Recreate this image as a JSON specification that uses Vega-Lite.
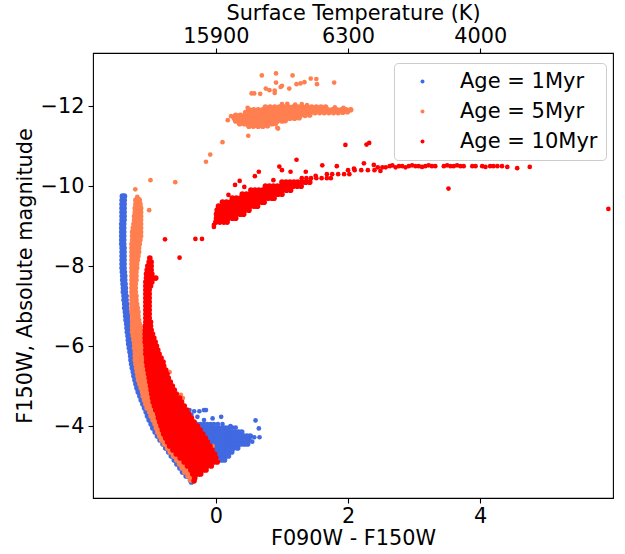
{
"$schema": "https://vega.github.io/schema/vega-lite/v6.json",
"width": 520, "height": 445,
"autosize": {"type": "none"},
"padding": {"left": 93, "top": 53, "right": 12, "bottom": 56},
"config": {
 "font": "DejaVu Sans",
 "view": {"stroke": "#000000", "strokeWidth": 1.1},
 "axis": {"grid": false, "domain": false, "tickColor": "#000000", "tickSize": 5, "tickWidth": 1.1, "labelColor": "#000000", "titleColor": "#000000", "labelFontSize": 20.8, "titleFontSize": 20.8, "titleFontWeight": "normal", "labelFont": "DejaVu Sans", "titleFont": "DejaVu Sans"}
},
"datasets": {
"b1": [
{"x":-1.415,"y":-9.75},{"x":-1.385,"y":-9.75},
{"x":-1.418,"y":-9.65},{"x":-1.388,"y":-9.65},
{"x":-1.42,"y":-9.55},{"x":-1.39,"y":-9.55},
{"x":-1.42,"y":-9.45},{"x":-1.39,"y":-9.45},
{"x":-1.42,"y":-9.35},{"x":-1.39,"y":-9.35},
{"x":-1.42,"y":-9.25},{"x":-1.39,"y":-9.25},
{"x":-1.42,"y":-9.15},{"x":-1.39,"y":-9.15},
{"x":-1.425,"y":-9.05},{"x":-1.395,"y":-9.05},
{"x":-1.425,"y":-8.95},{"x":-1.395,"y":-8.95},
{"x":-1.425,"y":-8.85},{"x":-1.395,"y":-8.85},
{"x":-1.425,"y":-8.75},{"x":-1.395,"y":-8.75},
{"x":-1.425,"y":-8.65},{"x":-1.395,"y":-8.65},
{"x":-1.425,"y":-8.55},{"x":-1.395,"y":-8.55},
{"x":-1.42,"y":-8.45},{"x":-1.39,"y":-8.45},
{"x":-1.42,"y":-8.35},{"x":-1.39,"y":-8.35},
{"x":-1.42,"y":-8.25},{"x":-1.39,"y":-8.25},
{"x":-1.42,"y":-8.15},{"x":-1.39,"y":-8.15},
{"x":-1.42,"y":-8.05},{"x":-1.39,"y":-8.05},
{"x":-1.42,"y":-7.95},{"x":-1.39,"y":-7.95},
{"x":-1.415,"y":-7.85},{"x":-1.385,"y":-7.85},
{"x":-1.41,"y":-7.75},{"x":-1.38,"y":-7.75},
{"x":-1.41,"y":-7.65},{"x":-1.38,"y":-7.65},
{"x":-1.405,"y":-7.55},{"x":-1.375,"y":-7.55},
{"x":-1.4,"y":-7.45},{"x":-1.37,"y":-7.45},
{"x":-1.4,"y":-7.35},{"x":-1.37,"y":-7.35},
{"x":-1.39,"y":-7.25},{"x":-1.36,"y":-7.25},
{"x":-1.39,"y":-7.15},{"x":-1.36,"y":-7.15},
{"x":-1.38,"y":-7.05},{"x":-1.35,"y":-7.05},
{"x":-1.38,"y":-6.95},{"x":-1.35,"y":-6.95},
{"x":-1.37,"y":-6.85},{"x":-1.34,"y":-6.85},
{"x":-1.365,"y":-6.75},{"x":-1.335,"y":-6.75},
{"x":-1.36,"y":-6.65},{"x":-1.33,"y":-6.65},
{"x":-1.35,"y":-6.55},{"x":-1.32,"y":-6.55},
{"x":-1.345,"y":-6.45},{"x":-1.315,"y":-6.45},
{"x":-1.34,"y":-6.35},{"x":-1.31,"y":-6.35},
{"x":-1.33,"y":-6.25},{"x":-1.3,"y":-6.25},
{"x":-1.325,"y":-6.15},{"x":-1.295,"y":-6.15},
{"x":-1.32,"y":-6.05},{"x":-1.29,"y":-6.05},
{"x":-1.31,"y":-5.95},{"x":-1.28,"y":-5.95},
{"x":-1.3,"y":-5.85},{"x":-1.27,"y":-5.85},
{"x":-1.29,"y":-5.75},{"x":-1.26,"y":-5.75},
{"x":-1.285,"y":-5.65},{"x":-1.255,"y":-5.65},
{"x":-1.275,"y":-5.55},{"x":-1.245,"y":-5.55},
{"x":-1.265,"y":-5.45},{"x":-1.235,"y":-5.45},
{"x":-1.25,"y":-5.35},{"x":-1.22,"y":-5.35},
{"x":-1.24,"y":-5.25},{"x":-1.21,"y":-5.25},
{"x":-1.225,"y":-5.15},{"x":-1.195,"y":-5.15},
{"x":-1.21,"y":-5.05},{"x":-1.18,"y":-5.05},
{"x":-1.195,"y":-4.95},{"x":-1.165,"y":-4.95},
{"x":-1.175,"y":-4.85},{"x":-1.145,"y":-4.85},
{"x":-1.15,"y":-4.75},{"x":-1.12,"y":-4.75},
{"x":-1.13,"y":-4.65},{"x":-1.1,"y":-4.65},
{"x":-1.105,"y":-4.55},{"x":-1.075,"y":-4.55},
{"x":-1.08,"y":-4.45},{"x":-1.05,"y":-4.45},
{"x":-1.055,"y":-4.35},{"x":-1.025,"y":-4.35},
{"x":-1.035,"y":-4.25},{"x":-1.005,"y":-4.25},
{"x":-1.01,"y":-4.15},{"x":-0.98,"y":-4.15},
{"x":-0.98,"y":-4.05},{"x":-0.95,"y":-4.05},
{"x":-0.955,"y":-3.95},{"x":-0.925,"y":-3.95},
{"x":-0.92,"y":-3.85},{"x":-0.89,"y":-3.85},
{"x":-0.885,"y":-3.75},{"x":-0.855,"y":-3.75},
{"x":-0.845,"y":-3.65},{"x":-0.815,"y":-3.65},
{"x":-0.8,"y":-3.55},{"x":-0.77,"y":-3.55},
{"x":-0.76,"y":-3.45},{"x":-0.73,"y":-3.45},
{"x":-0.715,"y":-3.35},{"x":-0.685,"y":-3.35},
{"x":-0.675,"y":-3.25},{"x":-0.645,"y":-3.25},
{"x":-0.63,"y":-3.15},{"x":-0.6,"y":-3.15},
{"x":-0.59,"y":-3.05},{"x":-0.56,"y":-3.05},
{"x":-0.545,"y":-2.95},{"x":-0.515,"y":-2.95},
{"x":-0.505,"y":-2.85},{"x":-0.475,"y":-2.85},
{"x":-0.45,"y":-2.75},{"x":-0.42,"y":-2.75},
{"x":-0.385,"y":-2.65},{"x":-0.36,"y":-2.65},
{"x":-0.37,"y":-2.6},
{"x":-0.26,"y":-3.95},{"x":-0.21,"y":-3.95},{"x":-0.16,"y":-3.95},{"x":-0.11,"y":-3.95},{"x":-0.06,"y":-3.95},{"x":-0.01,"y":-3.95},{"x":0.04,"y":-3.95},{"x":0.09,"y":-3.95},{"x":0.14,"y":-3.95},{"x":0.19,"y":-3.95},
{"x":-0.21,"y":-3.85},{"x":-0.16,"y":-3.85},{"x":-0.11,"y":-3.85},{"x":-0.06,"y":-3.85},{"x":-0.01,"y":-3.85},{"x":0.04,"y":-3.85},{"x":0.09,"y":-3.85},{"x":0.14,"y":-3.85},{"x":0.19,"y":-3.85},{"x":0.24,"y":-3.85},{"x":0.29,"y":-3.85},{"x":0.34,"y":-3.85},{"x":0.39,"y":-3.85},
{"x":-0.18,"y":-3.75},{"x":-0.13,"y":-3.75},{"x":-0.08,"y":-3.75},{"x":-0.03,"y":-3.75},{"x":0.02,"y":-3.75},{"x":0.07,"y":-3.75},{"x":0.12,"y":-3.75},{"x":0.17,"y":-3.75},{"x":0.22,"y":-3.75},{"x":0.27,"y":-3.75},{"x":0.32,"y":-3.75},{"x":0.37,"y":-3.75},{"x":0.42,"y":-3.75},{"x":0.47,"y":-3.75},{"x":0.52,"y":-3.75},
{"x":-0.15,"y":-3.65},{"x":-0.1,"y":-3.65},{"x":-0.05,"y":-3.65},{"x":0.0,"y":-3.65},{"x":0.05,"y":-3.65},{"x":0.1,"y":-3.65},{"x":0.15,"y":-3.65},{"x":0.2,"y":-3.65},{"x":0.25,"y":-3.65},{"x":0.3,"y":-3.65},{"x":0.35,"y":-3.65},{"x":0.4,"y":-3.65},{"x":0.45,"y":-3.65},{"x":0.5,"y":-3.65},
{"x":-0.12,"y":-3.55},{"x":-0.07,"y":-3.55},{"x":-0.02,"y":-3.55},{"x":0.03,"y":-3.55},{"x":0.08,"y":-3.55},{"x":0.13,"y":-3.55},{"x":0.18,"y":-3.55},{"x":0.23,"y":-3.55},{"x":0.28,"y":-3.55},{"x":0.33,"y":-3.55},{"x":0.38,"y":-3.55},{"x":0.43,"y":-3.55},{"x":0.48,"y":-3.55},
{"x":-0.08,"y":-3.45},{"x":-0.03,"y":-3.45},{"x":0.02,"y":-3.45},{"x":0.07,"y":-3.45},{"x":0.12,"y":-3.45},{"x":0.17,"y":-3.45},{"x":0.22,"y":-3.45},{"x":0.27,"y":-3.45},{"x":0.33,"y":-3.45},
{"x":-0.02,"y":-3.35},{"x":0.03,"y":-3.35},{"x":0.08,"y":-3.35},{"x":0.13,"y":-3.35},{"x":0.18,"y":-3.35},{"x":0.24,"y":-3.35},
{"x":0.03,"y":-3.25},{"x":0.08,"y":-3.25},{"x":0.13,"y":-3.25},{"x":0.19,"y":-3.25},
{"x":0.08,"y":-3.15},{"x":0.13,"y":-3.15}
],
"b2": [
{"x":-0.33,"y":-4.05},{"x":-0.28,"y":-4.05},{"x":-0.23,"y":-4.05},{"x":-0.18,"y":-4.05},{"x":-0.13,"y":-4.05},{"x":-0.08,"y":-4.05},{"x":-0.03,"y":-4.05},{"x":0.03,"y":-4.05},{"x":0.1,"y":-4.05},
{"x":0.25,"y":-3.96},{"x":0.3,"y":-3.96},{"x":0.65,"y":-3.94},{"x":0.58,"y":-3.72},{"x":0.66,"y":-3.72},
{"x":-0.4,"y":-4.4},{"x":-0.33,"y":-4.37},{"x":-0.25,"y":-4.37},{"x":-0.18,"y":-4.4},{"x":-0.15,"y":-4.4},{"x":-0.37,"y":-4.28},{"x":-0.28,"y":-4.23},{"x":-0.18,"y":-4.15},{"x":-0.05,"y":-4.19},{"x":0.08,"y":-4.23},{"x":0.6,"y":-4.14},{"x":0.55,"y":-3.61},{"x":0.22,"y":-4.0}
],
"o1": [
{"x":-1.21,"y":-9.65},{"x":-1.16,"y":-9.65},
{"x":-1.21,"y":-9.55},{"x":-1.15,"y":-9.55},
{"x":-1.22,"y":-9.45},{"x":-1.17,"y":-9.45},{"x":-1.14,"y":-9.45},
{"x":-1.22,"y":-9.35},{"x":-1.17,"y":-9.35},{"x":-1.14,"y":-9.35},
{"x":-1.23,"y":-9.25},{"x":-1.18,"y":-9.25},{"x":-1.14,"y":-9.25},
{"x":-1.23,"y":-9.15},{"x":-1.18,"y":-9.15},{"x":-1.14,"y":-9.15},
{"x":-1.24,"y":-9.05},{"x":-1.19,"y":-9.05},{"x":-1.14,"y":-9.05},
{"x":-1.25,"y":-8.95},{"x":-1.2,"y":-8.95},{"x":-1.14,"y":-8.95},
{"x":-1.26,"y":-8.85},{"x":-1.21,"y":-8.85},{"x":-1.16,"y":-8.85},{"x":-1.14,"y":-8.85},
{"x":-1.26,"y":-8.75},{"x":-1.21,"y":-8.75},{"x":-1.16,"y":-8.75},{"x":-1.14,"y":-8.75},
{"x":-1.26,"y":-8.65},{"x":-1.21,"y":-8.65},{"x":-1.15,"y":-8.65},
{"x":-1.27,"y":-8.55},{"x":-1.22,"y":-8.55},{"x":-1.16,"y":-8.55},
{"x":-1.27,"y":-8.45},{"x":-1.22,"y":-8.45},{"x":-1.17,"y":-8.45},
{"x":-1.27,"y":-8.35},{"x":-1.22,"y":-8.35},{"x":-1.17,"y":-8.35},
{"x":-1.27,"y":-8.25},{"x":-1.23,"y":-8.25},{"x":-1.18,"y":-8.25},
{"x":-1.27,"y":-8.15},{"x":-1.23,"y":-8.15},{"x":-1.19,"y":-8.15},
{"x":-1.27,"y":-8.05},{"x":-1.23,"y":-8.05},{"x":-1.2,"y":-8.05},
{"x":-1.27,"y":-7.95},{"x":-1.24,"y":-7.95},{"x":-1.2,"y":-7.95},
{"x":-1.27,"y":-7.85},{"x":-1.24,"y":-7.85},{"x":-1.21,"y":-7.85},
{"x":-1.27,"y":-7.75},{"x":-1.24,"y":-7.75},{"x":-1.21,"y":-7.75},
{"x":-1.27,"y":-7.65},{"x":-1.24,"y":-7.65},{"x":-1.21,"y":-7.65},
{"x":-1.27,"y":-7.55},{"x":-1.22,"y":-7.55},
{"x":-1.27,"y":-7.45},{"x":-1.22,"y":-7.45},
{"x":-1.27,"y":-7.35},{"x":-1.22,"y":-7.35},
{"x":-1.27,"y":-7.25},{"x":-1.21,"y":-7.25},
{"x":-1.27,"y":-7.15},{"x":-1.21,"y":-7.15},
{"x":-1.27,"y":-7.05},{"x":-1.22,"y":-7.05},{"x":-1.2,"y":-7.05},
{"x":-1.27,"y":-6.95},{"x":-1.22,"y":-6.95},{"x":-1.19,"y":-6.95},
{"x":-1.27,"y":-6.85},{"x":-1.22,"y":-6.85},{"x":-1.18,"y":-6.85},
{"x":-1.26,"y":-6.75},{"x":-1.21,"y":-6.75},{"x":-1.18,"y":-6.75},
{"x":-1.26,"y":-6.65},{"x":-1.21,"y":-6.65},{"x":-1.17,"y":-6.65},
{"x":-1.26,"y":-6.55},{"x":-1.21,"y":-6.55},{"x":-1.16,"y":-6.55},
{"x":-1.26,"y":-6.45},{"x":-1.21,"y":-6.45},{"x":-1.15,"y":-6.45},
{"x":-1.26,"y":-6.35},{"x":-1.21,"y":-6.35},{"x":-1.16,"y":-6.35},{"x":-1.14,"y":-6.35},
{"x":-1.25,"y":-6.25},{"x":-1.2,"y":-6.25},{"x":-1.15,"y":-6.25},{"x":-1.13,"y":-6.25},
{"x":-1.24,"y":-6.15},{"x":-1.19,"y":-6.15},{"x":-1.14,"y":-6.15},{"x":-1.13,"y":-6.15},
{"x":-1.23,"y":-6.05},{"x":-1.18,"y":-6.05},{"x":-1.13,"y":-6.05},
{"x":-1.23,"y":-5.95},{"x":-1.18,"y":-5.95},{"x":-1.13,"y":-5.95},
{"x":-1.22,"y":-5.85},{"x":-1.17,"y":-5.85},{"x":-1.12,"y":-5.85},
{"x":-1.22,"y":-5.75},{"x":-1.17,"y":-5.75},{"x":-1.12,"y":-5.75},
{"x":-1.22,"y":-5.65},{"x":-1.17,"y":-5.65},{"x":-1.12,"y":-5.65},
{"x":-1.21,"y":-5.55},{"x":-1.16,"y":-5.55},{"x":-1.11,"y":-5.55},
{"x":-1.2,"y":-5.45},{"x":-1.15,"y":-5.45},{"x":-1.1,"y":-5.45},
{"x":-1.19,"y":-5.35},{"x":-1.14,"y":-5.35},{"x":-1.09,"y":-5.35},
{"x":-1.18,"y":-5.25},{"x":-1.13,"y":-5.25},{"x":-1.08,"y":-5.25},
{"x":-1.17,"y":-5.15},{"x":-1.12,"y":-5.15},{"x":-1.07,"y":-5.15},
{"x":-1.15,"y":-5.05},{"x":-1.1,"y":-5.05},{"x":-1.05,"y":-5.05},
{"x":-1.13,"y":-4.95},{"x":-1.08,"y":-4.95},{"x":-1.03,"y":-4.95},
{"x":-1.11,"y":-4.85},{"x":-1.06,"y":-4.85},{"x":-1.01,"y":-4.85},
{"x":-1.1,"y":-4.75},{"x":-1.05,"y":-4.75},{"x":-1.0,"y":-4.75},
{"x":-1.08,"y":-4.65},{"x":-1.03,"y":-4.65},{"x":-0.98,"y":-4.65},
{"x":-1.06,"y":-4.55},{"x":-1.01,"y":-4.55},{"x":-0.96,"y":-4.55},
{"x":-1.04,"y":-4.45},{"x":-0.99,"y":-4.45},{"x":-0.94,"y":-4.45},
{"x":-1.0,"y":-4.35},{"x":-0.95,"y":-4.35},{"x":-0.9,"y":-4.35},
{"x":-0.98,"y":-4.25},{"x":-0.93,"y":-4.25},{"x":-0.88,"y":-4.25},
{"x":-0.95,"y":-4.15},{"x":-0.9,"y":-4.15},{"x":-0.85,"y":-4.15},
{"x":-0.92,"y":-4.05},{"x":-0.87,"y":-4.05},{"x":-0.82,"y":-4.05},
{"x":-0.9,"y":-3.95},{"x":-0.85,"y":-3.95},{"x":-0.8,"y":-3.95},
{"x":-0.88,"y":-3.85},{"x":-0.83,"y":-3.85},{"x":-0.78,"y":-3.85},
{"x":-0.85,"y":-3.75},{"x":-0.8,"y":-3.75},{"x":-0.75,"y":-3.75},
{"x":-0.82,"y":-3.65},{"x":-0.77,"y":-3.65},{"x":-0.72,"y":-3.65},
{"x":-0.78,"y":-3.55},{"x":-0.73,"y":-3.55},{"x":-0.68,"y":-3.55},
{"x":-0.73,"y":-3.45},{"x":-0.68,"y":-3.45},{"x":-0.63,"y":-3.45},
{"x":-0.69,"y":-3.35},{"x":-0.64,"y":-3.35},{"x":-0.59,"y":-3.35},
{"x":-0.64,"y":-3.25},{"x":-0.59,"y":-3.25},{"x":-0.54,"y":-3.25},
{"x":-0.59,"y":-3.15},{"x":-0.54,"y":-3.15},{"x":-0.49,"y":-3.15},
{"x":-0.55,"y":-3.05},{"x":-0.5,"y":-3.05},{"x":-0.45,"y":-3.05},
{"x":-0.51,"y":-2.95},{"x":-0.46,"y":-2.95},{"x":-0.41,"y":-2.95},
{"x":-0.47,"y":-2.85},{"x":-0.42,"y":-2.85},{"x":-0.37,"y":-2.85},
{"x":-0.42,"y":-2.75},{"x":-0.37,"y":-2.75},
{"x":-0.38,"y":-2.65},{"x":-0.34,"y":-2.65},
{"x":0.75,"y":-11.98},{"x":0.82,"y":-11.98},{"x":0.89,"y":-11.98},{"x":0.96,"y":-11.98},{"x":1.03,"y":-11.98},{"x":1.1,"y":-11.98},{"x":1.17,"y":-11.98},{"x":1.24,"y":-11.98},{"x":1.31,"y":-11.98},{"x":1.38,"y":-11.98},{"x":1.45,"y":-11.98},{"x":1.52,"y":-11.98},{"x":1.59,"y":-11.98},{"x":1.66,"y":-11.98},
{"x":0.5,"y":-11.91},{"x":0.57,"y":-11.91},{"x":0.64,"y":-11.91},{"x":0.71,"y":-11.91},{"x":0.78,"y":-11.91},{"x":0.85,"y":-11.91},{"x":0.92,"y":-11.91},{"x":0.99,"y":-11.91},{"x":1.06,"y":-11.91},{"x":1.13,"y":-11.91},{"x":1.2,"y":-11.91},{"x":1.27,"y":-11.91},{"x":1.34,"y":-11.91},{"x":1.41,"y":-11.91},{"x":1.48,"y":-11.91},{"x":1.55,"y":-11.91},{"x":1.62,"y":-11.91},{"x":1.69,"y":-11.91},{"x":1.76,"y":-11.91},{"x":1.83,"y":-11.91},{"x":1.9,"y":-11.91},{"x":1.97,"y":-11.91},{"x":2.04,"y":-11.91},
{"x":0.45,"y":-11.84},{"x":0.52,"y":-11.84},{"x":0.59,"y":-11.84},{"x":0.66,"y":-11.84},{"x":0.73,"y":-11.84},{"x":0.8,"y":-11.84},{"x":0.87,"y":-11.84},{"x":0.94,"y":-11.84},{"x":1.01,"y":-11.84},{"x":1.08,"y":-11.84},{"x":1.15,"y":-11.84},{"x":1.22,"y":-11.84},{"x":1.29,"y":-11.84},{"x":1.36,"y":-11.84},{"x":1.43,"y":-11.84},{"x":1.5,"y":-11.84},{"x":1.57,"y":-11.84},{"x":1.64,"y":-11.84},{"x":1.71,"y":-11.84},{"x":1.78,"y":-11.84},{"x":1.85,"y":-11.84},{"x":1.92,"y":-11.85},{"x":1.99,"y":-11.86},
{"x":0.3,"y":-11.77},{"x":0.37,"y":-11.77},{"x":0.44,"y":-11.77},{"x":0.51,"y":-11.77},{"x":0.58,"y":-11.77},{"x":0.65,"y":-11.77},{"x":0.72,"y":-11.77},{"x":0.79,"y":-11.77},{"x":0.86,"y":-11.77},{"x":0.93,"y":-11.77},{"x":1.0,"y":-11.77},{"x":1.07,"y":-11.77},{"x":1.14,"y":-11.77},{"x":1.21,"y":-11.77},{"x":1.28,"y":-11.77},{"x":1.35,"y":-11.77},{"x":1.42,"y":-11.78},
{"x":0.28,"y":-11.7},{"x":0.35,"y":-11.7},{"x":0.42,"y":-11.7},{"x":0.49,"y":-11.7},{"x":0.56,"y":-11.7},{"x":0.63,"y":-11.7},{"x":0.7,"y":-11.7},{"x":0.77,"y":-11.7},{"x":0.84,"y":-11.7},{"x":0.91,"y":-11.7},{"x":0.98,"y":-11.7},{"x":1.05,"y":-11.7},{"x":1.12,"y":-11.7},{"x":1.19,"y":-11.7},{"x":1.26,"y":-11.71},
{"x":0.3,"y":-11.63},{"x":0.37,"y":-11.63},{"x":0.44,"y":-11.63},{"x":0.51,"y":-11.63},{"x":0.58,"y":-11.63},{"x":0.65,"y":-11.63},{"x":0.72,"y":-11.63},{"x":0.79,"y":-11.63},{"x":0.86,"y":-11.63},{"x":0.93,"y":-11.63},{"x":1.0,"y":-11.63},{"x":1.05,"y":-11.64},
{"x":0.36,"y":-11.56},{"x":0.43,"y":-11.56},{"x":0.5,"y":-11.56},{"x":0.57,"y":-11.56},{"x":0.64,"y":-11.56},{"x":0.71,"y":-11.56},{"x":0.78,"y":-11.56},{"x":0.85,"y":-11.56},{"x":0.9,"y":-11.57},
{"x":0.5,"y":-11.5},{"x":0.57,"y":-11.5},{"x":0.64,"y":-11.5},{"x":0.71,"y":-11.5},{"x":0.78,"y":-11.51}
],
"o2": [
{"x":-0.7,"y":-5.35},{"x":-0.5,"y":-4.7},{"x":-0.53,"y":-4.78},{"x":-0.05,"y":-3.5},
{"x":-1.22,"y":-9.92},{"x":-1.19,"y":-9.73},{"x":-1.17,"y":-9.68},{"x":-0.99,"y":-10.15},{"x":-0.615,"y":-10.1},{"x":-1.01,"y":-9.4},{"x":-0.15,"y":-10.61},{"x":-0.086,"y":-10.79},{"x":0.1,"y":-11.1},{"x":0.49,"y":-11.26},{"x":0.93,"y":-11.46},{"x":0.94,"y":-11.44},{"x":0.18,"y":-11.65},{"x":0.23,"y":-11.75},{"x":0.48,"y":-11.96},
{"x":1.0,"y":-12.05},{"x":1.08,"y":-12.06},{"x":1.2,"y":-12.04},{"x":1.3,"y":-12.05},{"x":1.38,"y":-12.03},{"x":1.8,"y":-11.97},{"x":1.93,"y":-11.96},
{"x":0.695,"y":-12.77},{"x":0.91,"y":-12.82},{"x":1.16,"y":-12.77},{"x":1.435,"y":-12.69},{"x":1.52,"y":-12.68},{"x":1.53,"y":-12.55},{"x":1.79,"y":-12.59},{"x":0.91,"y":-12.59},{"x":1.0,"y":-12.51},{"x":1.11,"y":-12.44},{"x":1.22,"y":-12.55},{"x":1.28,"y":-12.57},{"x":1.34,"y":-12.6},{"x":0.755,"y":-12.44},{"x":0.81,"y":-12.4},{"x":0.89,"y":-12.39},{"x":0.89,"y":-12.33},{"x":0.67,"y":-12.31},{"x":0.54,"y":-12.32},{"x":0.58,"y":-12.32},{"x":0.98,"y":-12.48}
],
"r1": [
{"x":-1.0,"y":-8.2},
{"x":-1.01,"y":-8.1},{"x":-0.98,"y":-8.1},
{"x":-1.03,"y":-8.0},{"x":-0.98,"y":-8.0},
{"x":-1.04,"y":-7.9},{"x":-0.98,"y":-7.9},
{"x":-1.05,"y":-7.8},{"x":-1.0,"y":-7.8},{"x":-0.97,"y":-7.8},
{"x":-1.05,"y":-7.7},{"x":-1.0,"y":-7.7},{"x":-0.95,"y":-7.7},{"x":-0.91,"y":-7.7},
{"x":-1.06,"y":-7.6},{"x":-1.01,"y":-7.6},{"x":-0.97,"y":-7.6},
{"x":-1.06,"y":-7.5},{"x":-1.02,"y":-7.5},{"x":-0.99,"y":-7.5},
{"x":-1.06,"y":-7.4},{"x":-1.01,"y":-7.4},
{"x":-1.06,"y":-7.3},{"x":-1.01,"y":-7.3},
{"x":-1.06,"y":-7.2},{"x":-1.01,"y":-7.2},
{"x":-1.06,"y":-7.1},{"x":-1.01,"y":-7.1},
{"x":-1.06,"y":-7.0},{"x":-1.01,"y":-7.0},
{"x":-1.06,"y":-6.9},{"x":-1.01,"y":-6.9},
{"x":-1.06,"y":-6.8},{"x":-1.01,"y":-6.8},
{"x":-1.06,"y":-6.7},{"x":-1.01,"y":-6.7},
{"x":-1.06,"y":-6.6},{"x":-1.01,"y":-6.6},{"x":-0.99,"y":-6.6},
{"x":-1.07,"y":-6.5},{"x":-1.02,"y":-6.5},{"x":-0.99,"y":-6.5},
{"x":-1.07,"y":-6.4},{"x":-1.02,"y":-6.4},{"x":-0.98,"y":-6.4},
{"x":-1.07,"y":-6.3},{"x":-1.01,"y":-6.3},{"x":-0.96,"y":-6.3},
{"x":-1.07,"y":-6.2},{"x":-1.02,"y":-6.2},{"x":-0.97,"y":-6.2},{"x":-0.94,"y":-6.2},
{"x":-1.07,"y":-6.1},{"x":-1.02,"y":-6.1},{"x":-0.97,"y":-6.1},{"x":-0.92,"y":-6.1},
{"x":-1.06,"y":-6.0},{"x":-1.01,"y":-6.0},{"x":-0.96,"y":-6.0},{"x":-0.9,"y":-6.0},
{"x":-1.06,"y":-5.9},{"x":-1.01,"y":-5.9},{"x":-0.96,"y":-5.9},{"x":-0.92,"y":-5.9},{"x":-0.88,"y":-5.9},
{"x":-1.06,"y":-5.8},{"x":-1.01,"y":-5.8},{"x":-0.96,"y":-5.8},{"x":-0.91,"y":-5.8},{"x":-0.86,"y":-5.8},
{"x":-1.05,"y":-5.7},{"x":-1.0,"y":-5.7},{"x":-0.95,"y":-5.7},{"x":-0.9,"y":-5.7},{"x":-0.85,"y":-5.7},{"x":-0.83,"y":-5.7},
{"x":-1.05,"y":-5.6},{"x":-1.0,"y":-5.6},{"x":-0.95,"y":-5.6},{"x":-0.9,"y":-5.6},{"x":-0.85,"y":-5.6},{"x":-0.8,"y":-5.6},
{"x":-1.04,"y":-5.5},{"x":-0.99,"y":-5.5},{"x":-0.94,"y":-5.5},{"x":-0.89,"y":-5.5},{"x":-0.84,"y":-5.5},{"x":-0.79,"y":-5.5},
{"x":-1.03,"y":-5.4},{"x":-0.98,"y":-5.4},{"x":-0.93,"y":-5.4},{"x":-0.88,"y":-5.4},{"x":-0.82,"y":-5.4},{"x":-0.76,"y":-5.4},
{"x":-1.02,"y":-5.3},{"x":-0.97,"y":-5.3},{"x":-0.92,"y":-5.3},{"x":-0.87,"y":-5.3},{"x":-0.82,"y":-5.3},{"x":-0.78,"y":-5.3},{"x":-0.74,"y":-5.3},
{"x":-1.01,"y":-5.2},{"x":-0.96,"y":-5.2},{"x":-0.91,"y":-5.2},{"x":-0.86,"y":-5.2},{"x":-0.81,"y":-5.2},{"x":-0.76,"y":-5.2},{"x":-0.72,"y":-5.2},
{"x":-1.0,"y":-5.1},{"x":-0.95,"y":-5.1},{"x":-0.9,"y":-5.1},{"x":-0.85,"y":-5.1},{"x":-0.8,"y":-5.1},{"x":-0.75,"y":-5.1},{"x":-0.69,"y":-5.1},
{"x":-0.99,"y":-5.0},{"x":-0.94,"y":-5.0},{"x":-0.89,"y":-5.0},{"x":-0.84,"y":-5.0},{"x":-0.79,"y":-5.0},{"x":-0.74,"y":-5.0},{"x":-0.7,"y":-5.0},{"x":-0.66,"y":-5.0},
{"x":-0.98,"y":-4.9},{"x":-0.93,"y":-4.9},{"x":-0.88,"y":-4.9},{"x":-0.83,"y":-4.9},{"x":-0.78,"y":-4.9},{"x":-0.73,"y":-4.9},{"x":-0.68,"y":-4.9},{"x":-0.63,"y":-4.9},
{"x":-0.97,"y":-4.8},{"x":-0.92,"y":-4.8},{"x":-0.87,"y":-4.8},{"x":-0.82,"y":-4.8},{"x":-0.77,"y":-4.8},{"x":-0.72,"y":-4.8},{"x":-0.67,"y":-4.8},{"x":-0.63,"y":-4.8},{"x":-0.6,"y":-4.8},
{"x":-0.96,"y":-4.7},{"x":-0.91,"y":-4.7},{"x":-0.86,"y":-4.7},{"x":-0.81,"y":-4.7},{"x":-0.76,"y":-4.7},{"x":-0.71,"y":-4.7},{"x":-0.66,"y":-4.7},{"x":-0.61,"y":-4.7},{"x":-0.55,"y":-4.7},
{"x":-0.95,"y":-4.6},{"x":-0.9,"y":-4.6},{"x":-0.85,"y":-4.6},{"x":-0.8,"y":-4.6},{"x":-0.75,"y":-4.6},{"x":-0.7,"y":-4.6},{"x":-0.65,"y":-4.6},{"x":-0.6,"y":-4.6},{"x":-0.56,"y":-4.6},{"x":-0.52,"y":-4.6},
{"x":-0.93,"y":-4.5},{"x":-0.88,"y":-4.5},{"x":-0.83,"y":-4.5},{"x":-0.78,"y":-4.5},{"x":-0.73,"y":-4.5},{"x":-0.68,"y":-4.5},{"x":-0.63,"y":-4.5},{"x":-0.58,"y":-4.5},{"x":-0.53,"y":-4.5},{"x":-0.48,"y":-4.5},
{"x":-0.91,"y":-4.4},{"x":-0.86,"y":-4.4},{"x":-0.81,"y":-4.4},{"x":-0.76,"y":-4.4},{"x":-0.71,"y":-4.4},{"x":-0.66,"y":-4.4},{"x":-0.61,"y":-4.4},{"x":-0.56,"y":-4.4},{"x":-0.51,"y":-4.4},{"x":-0.47,"y":-4.4},{"x":-0.44,"y":-4.4},
{"x":-0.88,"y":-4.3},{"x":-0.83,"y":-4.3},{"x":-0.78,"y":-4.3},{"x":-0.73,"y":-4.3},{"x":-0.68,"y":-4.3},{"x":-0.63,"y":-4.3},{"x":-0.58,"y":-4.3},{"x":-0.53,"y":-4.3},{"x":-0.48,"y":-4.3},{"x":-0.44,"y":-4.3},{"x":-0.41,"y":-4.3},
{"x":-0.87,"y":-4.2},{"x":-0.82,"y":-4.2},{"x":-0.77,"y":-4.2},{"x":-0.72,"y":-4.2},{"x":-0.67,"y":-4.2},{"x":-0.62,"y":-4.2},{"x":-0.57,"y":-4.2},{"x":-0.52,"y":-4.2},{"x":-0.47,"y":-4.2},{"x":-0.42,"y":-4.2},{"x":-0.37,"y":-4.2},
{"x":-0.85,"y":-4.1},{"x":-0.8,"y":-4.1},{"x":-0.75,"y":-4.1},{"x":-0.7,"y":-4.1},{"x":-0.65,"y":-4.1},{"x":-0.6,"y":-4.1},{"x":-0.55,"y":-4.1},{"x":-0.5,"y":-4.1},{"x":-0.45,"y":-4.1},{"x":-0.4,"y":-4.1},{"x":-0.36,"y":-4.1},{"x":-0.33,"y":-4.1},
{"x":-0.83,"y":-4.0},{"x":-0.78,"y":-4.0},{"x":-0.73,"y":-4.0},{"x":-0.68,"y":-4.0},{"x":-0.63,"y":-4.0},{"x":-0.58,"y":-4.0},{"x":-0.53,"y":-4.0},{"x":-0.48,"y":-4.0},{"x":-0.43,"y":-4.0},{"x":-0.38,"y":-4.0},{"x":-0.33,"y":-4.0},{"x":-0.28,"y":-4.0},
{"x":-0.81,"y":-3.9},{"x":-0.76,"y":-3.9},{"x":-0.71,"y":-3.9},{"x":-0.66,"y":-3.9},{"x":-0.61,"y":-3.9},{"x":-0.56,"y":-3.9},{"x":-0.51,"y":-3.9},{"x":-0.46,"y":-3.9},{"x":-0.41,"y":-3.9},{"x":-0.36,"y":-3.9},{"x":-0.31,"y":-3.9},{"x":-0.27,"y":-3.9},{"x":-0.24,"y":-3.9},
{"x":-0.79,"y":-3.8},{"x":-0.74,"y":-3.8},{"x":-0.69,"y":-3.8},{"x":-0.64,"y":-3.8},{"x":-0.59,"y":-3.8},{"x":-0.54,"y":-3.8},{"x":-0.49,"y":-3.8},{"x":-0.44,"y":-3.8},{"x":-0.39,"y":-3.8},{"x":-0.34,"y":-3.8},{"x":-0.29,"y":-3.8},{"x":-0.24,"y":-3.8},{"x":-0.2,"y":-3.8},
{"x":-0.76,"y":-3.7},{"x":-0.71,"y":-3.7},{"x":-0.66,"y":-3.7},{"x":-0.61,"y":-3.7},{"x":-0.56,"y":-3.7},{"x":-0.51,"y":-3.7},{"x":-0.46,"y":-3.7},{"x":-0.41,"y":-3.7},{"x":-0.36,"y":-3.7},{"x":-0.31,"y":-3.7},{"x":-0.26,"y":-3.7},{"x":-0.21,"y":-3.7},{"x":-0.16,"y":-3.7},
{"x":-0.73,"y":-3.6},{"x":-0.68,"y":-3.6},{"x":-0.63,"y":-3.6},{"x":-0.58,"y":-3.6},{"x":-0.53,"y":-3.6},{"x":-0.48,"y":-3.6},{"x":-0.43,"y":-3.6},{"x":-0.38,"y":-3.6},{"x":-0.33,"y":-3.6},{"x":-0.28,"y":-3.6},{"x":-0.23,"y":-3.6},{"x":-0.18,"y":-3.6},{"x":-0.13,"y":-3.6},
{"x":-0.7,"y":-3.5},{"x":-0.65,"y":-3.5},{"x":-0.6,"y":-3.5},{"x":-0.55,"y":-3.5},{"x":-0.5,"y":-3.5},{"x":-0.45,"y":-3.5},{"x":-0.4,"y":-3.5},{"x":-0.35,"y":-3.5},{"x":-0.3,"y":-3.5},{"x":-0.25,"y":-3.5},{"x":-0.2,"y":-3.5},{"x":-0.15,"y":-3.5},{"x":-0.09,"y":-3.5},
{"x":-0.65,"y":-3.4},{"x":-0.6,"y":-3.4},{"x":-0.55,"y":-3.4},{"x":-0.5,"y":-3.4},{"x":-0.45,"y":-3.4},{"x":-0.4,"y":-3.4},{"x":-0.35,"y":-3.4},{"x":-0.3,"y":-3.4},{"x":-0.25,"y":-3.4},{"x":-0.2,"y":-3.4},{"x":-0.15,"y":-3.4},{"x":-0.1,"y":-3.4},{"x":-0.06,"y":-3.4},
{"x":-0.6,"y":-3.3},{"x":-0.55,"y":-3.3},{"x":-0.5,"y":-3.3},{"x":-0.45,"y":-3.3},{"x":-0.4,"y":-3.3},{"x":-0.35,"y":-3.3},{"x":-0.3,"y":-3.3},{"x":-0.25,"y":-3.3},{"x":-0.2,"y":-3.3},{"x":-0.15,"y":-3.3},{"x":-0.1,"y":-3.3},{"x":-0.05,"y":-3.3},{"x":-0.02,"y":-3.3},
{"x":-0.54,"y":-3.2},{"x":-0.49,"y":-3.2},{"x":-0.44,"y":-3.2},{"x":-0.39,"y":-3.2},{"x":-0.34,"y":-3.2},{"x":-0.29,"y":-3.2},{"x":-0.24,"y":-3.2},{"x":-0.19,"y":-3.2},{"x":-0.14,"y":-3.2},{"x":-0.09,"y":-3.2},{"x":-0.04,"y":-3.2},{"x":0.0,"y":-3.2},
{"x":-0.48,"y":-3.1},{"x":-0.43,"y":-3.1},{"x":-0.38,"y":-3.1},{"x":-0.33,"y":-3.1},{"x":-0.28,"y":-3.1},{"x":-0.23,"y":-3.1},{"x":-0.18,"y":-3.1},{"x":-0.13,"y":-3.1},{"x":-0.08,"y":-3.1},{"x":-0.03,"y":-3.1},{"x":0.02,"y":-3.1},
{"x":-0.43,"y":-3.0},{"x":-0.38,"y":-3.0},{"x":-0.33,"y":-3.0},{"x":-0.28,"y":-3.0},{"x":-0.23,"y":-3.0},{"x":-0.18,"y":-3.0},{"x":-0.13,"y":-3.0},{"x":-0.07,"y":-3.0},
{"x":-0.38,"y":-2.9},{"x":-0.33,"y":-2.9},{"x":-0.28,"y":-2.9},{"x":-0.23,"y":-2.9},{"x":-0.19,"y":-2.9},{"x":-0.15,"y":-2.9},
{"x":-0.35,"y":-2.8},{"x":-0.3,"y":-2.8},{"x":-0.26,"y":-2.8},{"x":-0.23,"y":-2.8},
{"x":-0.32,"y":-2.7},{"x":-0.33,"y":-2.63},
{"x":0.0,"y":-9.1},{"x":0.06,"y":-9.1},{"x":0.12,"y":-9.1},{"x":0.17,"y":-9.1},
{"x":0.01,"y":-9.2},{"x":0.07,"y":-9.2},{"x":0.13,"y":-9.2},{"x":0.19,"y":-9.2},{"x":0.25,"y":-9.2},{"x":0.3,"y":-9.2},
{"x":0.01,"y":-9.3},{"x":0.07,"y":-9.3},{"x":0.13,"y":-9.3},{"x":0.19,"y":-9.3},{"x":0.25,"y":-9.3},{"x":0.31,"y":-9.3},{"x":0.37,"y":-9.3},{"x":0.42,"y":-9.3},
{"x":0.02,"y":-9.4},{"x":0.08,"y":-9.4},{"x":0.14,"y":-9.4},{"x":0.2,"y":-9.4},{"x":0.26,"y":-9.4},{"x":0.32,"y":-9.4},{"x":0.38,"y":-9.4},{"x":0.44,"y":-9.4},{"x":0.5,"y":-9.4},
{"x":0.04,"y":-9.5},{"x":0.1,"y":-9.5},{"x":0.16,"y":-9.5},{"x":0.22,"y":-9.5},{"x":0.28,"y":-9.5},{"x":0.34,"y":-9.5},{"x":0.4,"y":-9.5},{"x":0.46,"y":-9.5},{"x":0.52,"y":-9.5},{"x":0.58,"y":-9.5},{"x":0.63,"y":-9.5},
{"x":0.1,"y":-9.6},{"x":0.16,"y":-9.6},{"x":0.22,"y":-9.6},{"x":0.28,"y":-9.6},{"x":0.34,"y":-9.6},{"x":0.4,"y":-9.6},{"x":0.46,"y":-9.6},{"x":0.52,"y":-9.6},{"x":0.58,"y":-9.6},{"x":0.64,"y":-9.6},{"x":0.7,"y":-9.6},{"x":0.73,"y":-9.6},
{"x":0.25,"y":-9.7},{"x":0.31,"y":-9.7},{"x":0.37,"y":-9.7},{"x":0.43,"y":-9.7},{"x":0.49,"y":-9.7},{"x":0.55,"y":-9.7},{"x":0.61,"y":-9.7},{"x":0.67,"y":-9.7},{"x":0.73,"y":-9.7},{"x":0.79,"y":-9.7},{"x":0.85,"y":-9.7},{"x":0.88,"y":-9.7},
{"x":0.4,"y":-9.8},{"x":0.46,"y":-9.8},{"x":0.52,"y":-9.8},{"x":0.58,"y":-9.8},{"x":0.64,"y":-9.8},{"x":0.7,"y":-9.8},{"x":0.76,"y":-9.8},{"x":0.82,"y":-9.8},{"x":0.88,"y":-9.8},{"x":0.94,"y":-9.8},{"x":1.0,"y":-9.8},
{"x":0.53,"y":-9.9},{"x":0.59,"y":-9.9},{"x":0.65,"y":-9.9},{"x":0.71,"y":-9.9},{"x":0.77,"y":-9.9},{"x":0.83,"y":-9.9},{"x":0.89,"y":-9.9},{"x":0.95,"y":-9.9},{"x":1.01,"y":-9.9},{"x":1.07,"y":-9.9},{"x":1.13,"y":-9.9},
{"x":0.75,"y":-10.0},{"x":0.81,"y":-10.0},{"x":0.87,"y":-10.0},{"x":0.93,"y":-10.0},{"x":0.99,"y":-10.0},{"x":1.05,"y":-10.0},{"x":1.11,"y":-10.0},{"x":1.17,"y":-10.0},{"x":1.23,"y":-10.0},{"x":1.29,"y":-10.0},
{"x":1.0,"y":-10.1},{"x":1.06,"y":-10.1},{"x":1.12,"y":-10.1},{"x":1.18,"y":-10.1},{"x":1.24,"y":-10.1},{"x":1.3,"y":-10.1},{"x":1.36,"y":-10.1},{"x":1.42,"y":-10.1}
],
"r2": [
{"x":-0.77,"y":-8.67},{"x":-0.55,"y":-8.21},{"x":-0.31,"y":-8.68},{"x":-0.21,"y":-8.68},{"x":-0.03,"y":-8.98},{"x":-0.03,"y":-9.03},
{"x":1.3,"y":-10.2},{"x":1.37,"y":-10.2},{"x":1.44,"y":-10.2},{"x":1.52,"y":-10.2},{"x":1.6,"y":-10.2},{"x":1.68,"y":-10.2},{"x":1.74,"y":-10.2},
{"x":1.68,"y":-10.3},{"x":1.76,"y":-10.3},{"x":1.85,"y":-10.3},{"x":1.94,"y":-10.3},{"x":2.02,"y":-10.3},
{"x":2.0,"y":-10.4},{"x":2.1,"y":-10.4},{"x":2.2,"y":-10.4},{"x":2.3,"y":-10.4},{"x":2.4,"y":-10.4},
{"x":2.45,"y":-10.47},{"x":2.52,"y":-10.47},
{"x":0.19,"y":-9.78},{"x":0.29,"y":-10.03},{"x":0.36,"y":-10.13},{"x":0.43,"y":-9.98},{"x":0.59,"y":-10.25},{"x":0.65,"y":-10.36},{"x":0.87,"y":-10.15},{"x":0.96,"y":-10.49},{"x":1.0,"y":-10.4},{"x":1.13,"y":-10.36},{"x":1.22,"y":-10.66},{"x":1.36,"y":-10.36},{"x":1.51,"y":-10.26},{"x":1.61,"y":-10.52},{"x":1.83,"y":-10.5},{"x":1.96,"y":-11.03},{"x":2.28,"y":-11.04},{"x":2.32,"y":-11.08},{"x":2.09,"y":-10.44},{"x":2.24,"y":-10.57},{"x":2.49,"y":-10.38},{"x":2.39,"y":-10.53},
{"x":2.57,"y":-10.47},{"x":2.63,"y":-10.5},{"x":2.67,"y":-10.52},{"x":2.72,"y":-10.47},{"x":2.77,"y":-10.5},{"x":2.82,"y":-10.5},{"x":2.87,"y":-10.47},{"x":2.92,"y":-10.5},{"x":2.97,"y":-10.52},{"x":3.02,"y":-10.5},{"x":3.07,"y":-10.5},{"x":3.12,"y":-10.48},{"x":3.17,"y":-10.5},{"x":3.22,"y":-10.52},{"x":3.27,"y":-10.5},{"x":3.32,"y":-10.5},{"x":3.45,"y":-10.5},{"x":3.5,"y":-10.52},{"x":3.55,"y":-10.5},{"x":3.6,"y":-10.5},{"x":3.65,"y":-10.52},{"x":3.7,"y":-10.5},{"x":3.75,"y":-10.5},{"x":3.88,"y":-10.5},{"x":3.93,"y":-10.5},{"x":4.03,"y":-10.5},{"x":4.08,"y":-10.48},{"x":4.15,"y":-10.5},{"x":4.2,"y":-10.5},{"x":4.26,"y":-10.5},{"x":4.33,"y":-10.5},{"x":4.41,"y":-10.48},{"x":4.56,"y":-10.45},{"x":4.75,"y":-10.48},
{"x":3.52,"y":-9.94},{"x":5.94,"y":-9.43}
]
},
"layer": [
{
 "data": {"name": "b1"},
 "mark": {"type": "circle", "size": 32, "opacity": 1, "strokeWidth": 0},
 "encoding": {
  "x": {"field": "x", "type": "quantitative", "scale": {"domain": [-1.86, 6.01], "nice": false, "zero": false}, "axis": {"orient": "bottom", "values": [0, 2, 4], "format": "d", "title": "F090W - F150W", "labelPadding": 3, "titlePadding": 3}},
  "y": {"field": "y", "type": "quantitative", "scale": {"domain": [-13.33, -2.2], "nice": false, "zero": false, "reverse": true}, "axis": {"orient": "left", "values": [-12, -10, -8, -6, -4], "format": "d", "title": "F150W, Absolute magnitude", "labelPadding": 4, "titlePadding": 5}},
  "color": {"datum": "Age = 1Myr", "type": "nominal", "scale": {"domain": ["Age = 1Myr", "Age = 5Myr", "Age = 10Myr"], "range": ["#4169e1", "#ff7f50", "#ff0000"]}, "legend": {"title": null, "orient": "none", "legendX": 301, "legendY": 10, "symbolType": "circle", "symbolSize": 16, "symbolStrokeWidth": 0, "symbolOpacity": 1, "labelFontSize": 21, "labelFont": "DejaVu Sans", "labelColor": "#000000", "padding": 8, "rowPadding": 8, "labelOffset": 27, "symbolOffset": 10, "strokeColor": "#cccccc", "fillColor": "#ffffff", "cornerRadius": 4}}
 }
},
{
 "data": {"name": "b2"},
 "mark": {"type": "circle", "size": 22, "opacity": 1, "strokeWidth": 0},
 "encoding": {
  "x": {"field": "x", "type": "quantitative", "axis": null},
  "y": {"field": "y", "type": "quantitative", "axis": null},
  "color": {"datum": "Age = 1Myr", "type": "nominal"}
 }
},
{
 "data": {"name": "o1"},
 "mark": {"type": "circle", "size": 32, "opacity": 1, "strokeWidth": 0},
 "encoding": {
  "x": {"field": "x", "type": "quantitative", "axis": null},
  "y": {"field": "y", "type": "quantitative", "axis": null},
  "color": {"datum": "Age = 5Myr", "type": "nominal"}
 }
},
{
 "data": {"name": "o2"},
 "mark": {"type": "circle", "size": 22, "opacity": 1, "strokeWidth": 0},
 "encoding": {
  "x": {"field": "x", "type": "quantitative", "axis": null},
  "y": {"field": "y", "type": "quantitative", "axis": null},
  "color": {"datum": "Age = 5Myr", "type": "nominal"}
 }
},
{
 "data": {"name": "r1"},
 "mark": {"type": "circle", "size": 32, "opacity": 1, "strokeWidth": 0},
 "encoding": {
  "x": {"field": "x", "type": "quantitative", "axis": null},
  "y": {"field": "y", "type": "quantitative", "axis": null},
  "color": {"datum": "Age = 10Myr", "type": "nominal"}
 }
},
{
 "data": {"name": "r2"},
 "mark": {"type": "circle", "size": 22, "opacity": 1, "strokeWidth": 0},
 "encoding": {
  "x": {"field": "x", "type": "quantitative", "axis": {"orient": "top", "values": [0, 2, 4], "labelExpr": "datum.value == 0 ? '15900' : datum.value == 2 ? '6300' : '4000'", "title": "Surface Temperature (K)", "labelPadding": 1.5, "titlePadding": 2}},
  "y": {"field": "y", "type": "quantitative", "axis": null},
  "color": {"datum": "Age = 10Myr", "type": "nominal"}
 }
}
],
"resolve": {"axis": {"x": "independent", "y": "independent"}}
}
